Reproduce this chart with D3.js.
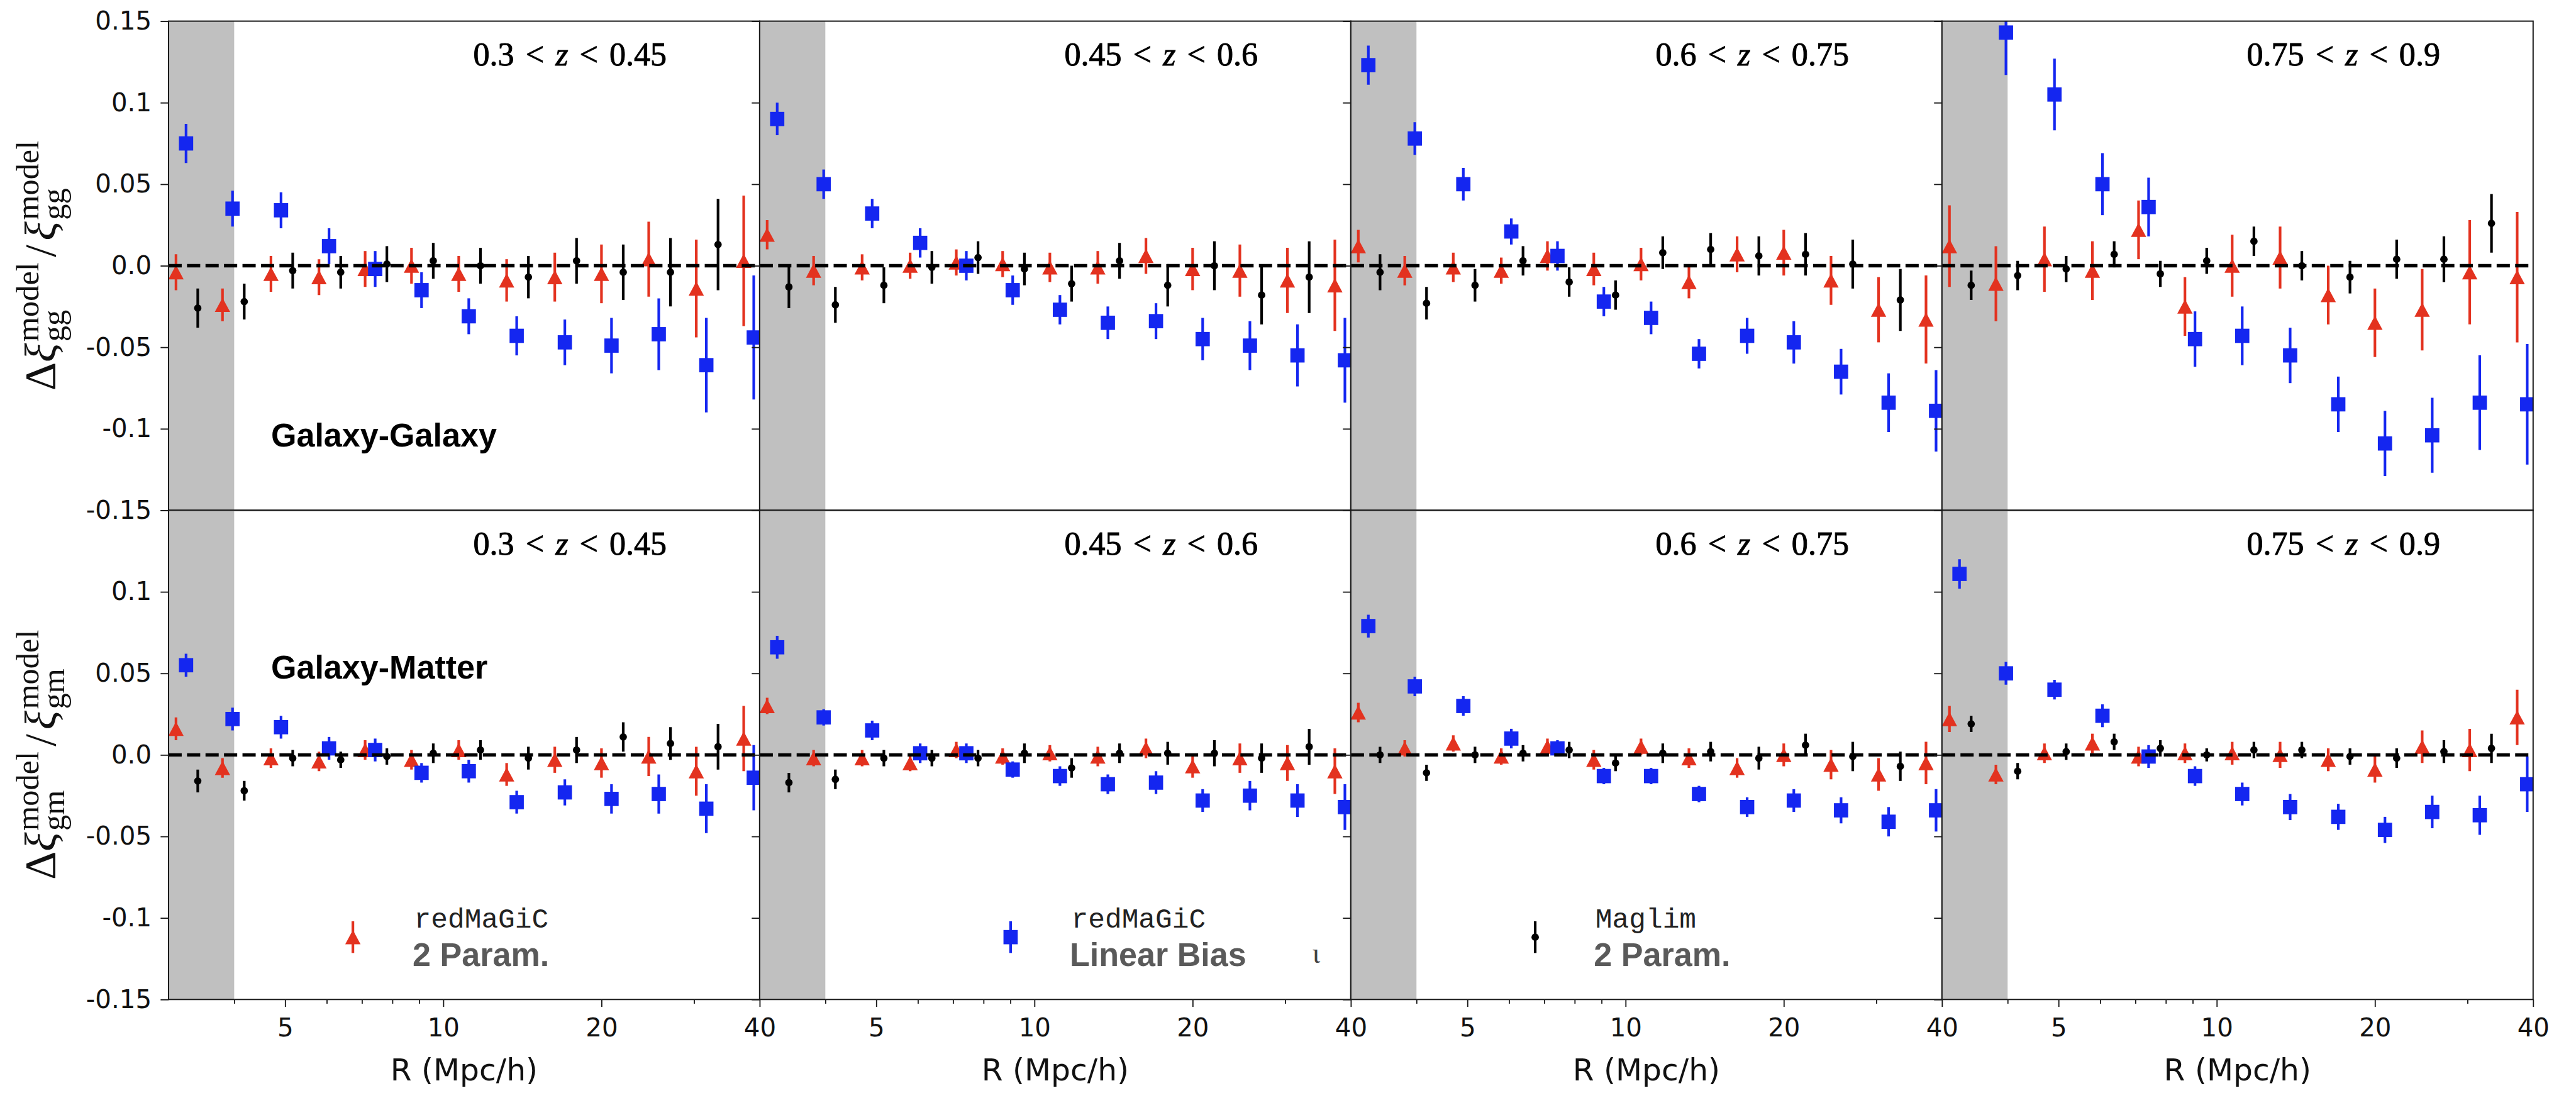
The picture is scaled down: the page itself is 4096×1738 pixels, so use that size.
<!DOCTYPE html>
<html>
<head>
<meta charset="utf-8">
<script src="https://cdn.jsdelivr.net/npm/d3@7"></script>
<style>
  html, body { margin: 0; padding: 0; background: #ffffff; }
  svg { display: block; }
</style>
</head>
<body>
<script>
// ---------------------------------------------------------------------------
// Data: fractional residuals of the clustering model, per redshift bin
// ---------------------------------------------------------------------------
const zLow  = ["0.3", "0.45", "0.6", "0.75"];
const zHigh = ["0.45", "0.6", "0.75", "0.9"];

// radial bin centres, R in Mpc/h
const rBins = [3.1, 3.8, 4.7, 5.8, 7.1, 8.7, 10.7, 13.2, 16.3, 20.0, 24.6, 30.3, 37.3];

const yTickValues = [-0.15, -0.1, -0.05, 0, 0.05, 0.1, 0.15];
const xTickValues = [4, 5, 6, 7, 8, 9, 10, 20, 30, 40];
const xTickLabeled = [5, 10, 20, 40];

// Galaxy-Galaxy, redMaGiC 2-parameter model
const ggRm2pVal = [
  [-0.004, -0.024, -0.005, -0.007, -0.002, 0.000, -0.005, -0.009, -0.007, -0.005, 0.004, -0.014, 0.003],
  [0.019, -0.003, -0.001, 0.000, 0.002, 0.001, -0.001, -0.001, 0.006, -0.002, -0.003, -0.009, -0.012],
  [0.012, -0.003, -0.001, -0.003, 0.006, -0.002, 0.001, -0.010, 0.007, 0.008, -0.009, -0.027, -0.033],
  [0.012, -0.011, 0.004, -0.003, 0.022, -0.025, 0.000, 0.005, -0.018, -0.035, -0.027, -0.004, -0.007]
];
const ggRm2pErr = [
  [0.011, 0.010, 0.011, 0.011, 0.011, 0.011, 0.011, 0.013, 0.015, 0.018, 0.023, 0.030, 0.040],
  [0.009, 0.009, 0.008, 0.008, 0.008, 0.008, 0.009, 0.010, 0.011, 0.013, 0.016, 0.020, 0.028],
  [0.010, 0.009, 0.009, 0.008, 0.009, 0.010, 0.010, 0.010, 0.011, 0.014, 0.015, 0.020, 0.027],
  [0.025, 0.023, 0.020, 0.018, 0.018, 0.018, 0.019, 0.019, 0.018, 0.021, 0.025, 0.032, 0.040]
];

// Galaxy-Galaxy, redMaGiC linear bias
const ggRmLinVal = [
  [0.075, 0.035, 0.034, 0.012, -0.002, -0.015, -0.031, -0.043, -0.047, -0.049, -0.042, -0.061, -0.044],
  [0.090, 0.050, 0.032, 0.014, 0.000, -0.015, -0.027, -0.035, -0.034, -0.045, -0.049, -0.055, -0.058],
  [0.123, 0.078, 0.050, 0.021, 0.006, -0.022, -0.032, -0.054, -0.043, -0.047, -0.065, -0.084, -0.089],
  [null, 0.143, 0.105, 0.050, 0.036, -0.045, -0.043, -0.055, -0.085, -0.109, -0.104, -0.084, -0.085]
];
const ggRmLinErr = [
  [0.012, 0.011, 0.011, 0.011, 0.011, 0.011, 0.011, 0.012, 0.014, 0.017, 0.022, 0.029, 0.038],
  [0.010, 0.009, 0.009, 0.009, 0.009, 0.009, 0.009, 0.010, 0.011, 0.013, 0.015, 0.019, 0.026],
  [0.012, 0.010, 0.010, 0.008, 0.009, 0.009, 0.010, 0.009, 0.011, 0.013, 0.014, 0.018, 0.025],
  [null, 0.026, 0.022, 0.019, 0.018, 0.017, 0.018, 0.017, 0.017, 0.020, 0.023, 0.029, 0.037]
];

// Galaxy-Galaxy, Maglim 2-parameter model
const ggMl2pVal = [
  [-0.026, -0.022, -0.003, -0.004, 0.001, 0.003, 0.000, -0.007, 0.003, -0.004, -0.004, 0.013],
  [-0.013, -0.024, -0.012, -0.001, 0.005, -0.002, -0.011, 0.003, -0.012, 0.000, -0.018, -0.007],
  [-0.004, -0.023, -0.012, 0.003, -0.010, -0.018, 0.008, 0.010, 0.006, 0.007, 0.001, -0.021],
  [-0.012, -0.006, -0.002, 0.007, -0.005, 0.003, 0.015, 0.000, -0.007, 0.004, 0.004, 0.026]
];
const ggMl2pErr = [
  [0.012, 0.011, 0.011, 0.010, 0.011, 0.011, 0.011, 0.013, 0.014, 0.017, 0.021, 0.028],
  [0.013, 0.011, 0.011, 0.010, 0.010, 0.010, 0.011, 0.011, 0.013, 0.015, 0.018, 0.022],
  [0.011, 0.010, 0.010, 0.009, 0.009, 0.009, 0.010, 0.010, 0.012, 0.013, 0.015, 0.019],
  [0.009, 0.009, 0.008, 0.008, 0.008, 0.008, 0.009, 0.009, 0.010, 0.012, 0.014, 0.018]
];

// Galaxy-Matter, redMaGiC 2-parameter model
const gmRm2pVal = [
  [0.016, -0.008, -0.002, -0.004, 0.003, -0.003, 0.003, -0.012, -0.003, -0.005, -0.001, -0.010, 0.010],
  [0.030, -0.002, -0.002, -0.005, 0.003, -0.001, 0.001, -0.001, 0.004, -0.007, -0.002, -0.005, -0.010],
  [0.026, 0.004, 0.007, -0.001, 0.005, -0.003, 0.005, -0.002, -0.008, 0.000, -0.006, -0.012, -0.005],
  [0.022, -0.012, 0.001, 0.007, -0.001, 0.001, 0.001, 0.000, -0.003, -0.009, 0.005, 0.003, 0.023]
];
const gmRm2pErr = [
  [0.007, 0.006, 0.006, 0.006, 0.006, 0.006, 0.006, 0.007, 0.008, 0.009, 0.012, 0.015, 0.020],
  [0.005, 0.005, 0.005, 0.005, 0.005, 0.005, 0.005, 0.006, 0.006, 0.007, 0.009, 0.011, 0.014],
  [0.006, 0.005, 0.005, 0.005, 0.005, 0.006, 0.005, 0.006, 0.006, 0.007, 0.009, 0.010, 0.013],
  [0.008, 0.006, 0.006, 0.006, 0.006, 0.006, 0.007, 0.008, 0.007, 0.008, 0.010, 0.013, 0.017]
];

// Galaxy-Matter, redMaGiC linear bias
const gmRmLinVal = [
  [0.055, 0.022, 0.017, 0.004, 0.003, -0.011, -0.010, -0.029, -0.023, -0.027, -0.024, -0.033, -0.014],
  [0.066, 0.023, 0.015, 0.001, 0.001, -0.009, -0.013, -0.018, -0.017, -0.028, -0.025, -0.028, -0.032],
  [0.079, 0.042, 0.030, 0.010, 0.004, -0.013, -0.013, -0.024, -0.032, -0.028, -0.034, -0.041, -0.034],
  [0.111, 0.050, 0.040, 0.024, -0.001, -0.013, -0.024, -0.032, -0.038, -0.046, -0.035, -0.037, -0.018]
];
const gmRmLinErr = [
  [0.007, 0.007, 0.007, 0.007, 0.007, 0.006, 0.007, 0.007, 0.008, 0.009, 0.012, 0.015, 0.020],
  [0.007, 0.005, 0.006, 0.006, 0.006, 0.005, 0.006, 0.006, 0.007, 0.007, 0.009, 0.010, 0.014],
  [0.007, 0.006, 0.006, 0.006, 0.005, 0.005, 0.005, 0.005, 0.006, 0.007, 0.008, 0.009, 0.013],
  [0.009, 0.007, 0.006, 0.007, 0.007, 0.006, 0.007, 0.008, 0.008, 0.008, 0.010, 0.012, 0.017]
];

// Galaxy-Matter, Maglim 2-parameter model
const gmMl2pVal = [
  [-0.016, -0.022, -0.002, -0.003, -0.001, 0.001, 0.003, -0.002, 0.003, 0.011, 0.007, 0.005],
  [-0.017, -0.015, -0.002, -0.002, -0.002, 0.001, -0.008, 0.001, 0.001, 0.001, -0.002, 0.005],
  [0.000, -0.011, 0.000, 0.001, 0.003, -0.005, 0.001, 0.002, -0.002, 0.006, -0.001, -0.007],
  [0.019, -0.010, 0.002, 0.008, 0.004, 0.000, 0.003, 0.003, -0.001, -0.002, 0.002, 0.004]
];
const gmMl2pErr = [
  [0.007, 0.006, 0.005, 0.005, 0.005, 0.006, 0.006, 0.007, 0.008, 0.009, 0.010, 0.014],
  [0.006, 0.006, 0.005, 0.005, 0.005, 0.006, 0.006, 0.006, 0.007, 0.008, 0.009, 0.011],
  [0.005, 0.005, 0.005, 0.005, 0.005, 0.005, 0.006, 0.006, 0.007, 0.007, 0.009, 0.009],
  [0.005, 0.005, 0.005, 0.005, 0.005, 0.004, 0.005, 0.005, 0.005, 0.006, 0.007, 0.009]
];

const legendSample = ["redMaGiC", "redMaGiC", "Maglim"];
const legendModel  = ["2 Param.", "Linear Bias", "2 Param."];

// ---------------------------------------------------------------------------
// Layout (drawing units scaled by S)
// ---------------------------------------------------------------------------
const S = 0.84;
const W = 4096, H = 1738;
const panelW = 1119 * S;
const rowH = 926 * S;
const left0 = 319 * S;
const top0 = 40 * S;

const SANS = "'DejaVu Sans', sans-serif";
const SERIF = "'Liberation Serif', 'DejaVu Serif', serif";
const MONO = "'Liberation Mono', 'DejaVu Sans Mono', monospace";
const BOLD = "'Liberation Sans', Arial, sans-serif";

const RED = "#e3321f", BLUE = "#1426f0", BLACK = "#000000";

const series = [
  { shape: "tri", color: RED,   shift: 1.000, val: [ggRm2pVal, gmRm2pVal],   err: [ggRm2pErr, gmRm2pErr] },
  { shape: "sq",  color: BLUE,  shift: 1.045, val: [ggRmLinVal, gmRmLinVal], err: [ggRmLinErr, gmRmLinErr] },
  { shape: "dot", color: BLACK, shift: 1.100, val: [ggMl2pVal, gmMl2pVal],   err: [ggMl2pErr, gmMl2pErr] }
];

const svg = d3.select("body").append("svg")
  .attr("width", W).attr("height", H)
  .attr("viewBox", `0 0 ${W} ${H}`);
svg.append("rect").attr("width", W).attr("height", H).attr("fill", "#ffffff");
const defs = svg.append("defs");

function drawMarker(g, shape, color, cx, cy) {
  if (shape === "tri") {
    const w = 29 * S, h = 27 * S;
    g.append("path")
      .attr("d", `M${cx},${cy - h / 2}L${cx + w / 2},${cy + h / 2}L${cx - w / 2},${cy + h / 2}Z`)
      .attr("fill", color);
  } else if (shape === "sq") {
    const s = 27 * S;
    g.append("rect").attr("x", cx - s / 2).attr("y", cy - s / 2)
      .attr("width", s).attr("height", s).attr("fill", color);
  } else {
    g.append("circle").attr("cx", cx).attr("cy", cy).attr("r", 7 * S).attr("fill", color);
  }
}

for (let row = 0; row < 2; row++) {
  for (let p = 0; p < 4; p++) {
    const x0 = left0 + p * panelW;
    const y0 = top0 + row * rowH;
    const x = d3.scaleLog().domain([3, 40]).range([x0, x0 + panelW]);
    const y = d3.scaleLinear().domain([-0.15, 0.15]).range([y0 + rowH, y0]);

    const clipId = `clip-${row}-${p}`;
    defs.append("clipPath").attr("id", clipId)
      .append("rect").attr("x", x0).attr("y", y0).attr("width", panelW).attr("height", rowH);

    const panel = svg.append("g");
    const plot = panel.append("g").attr("clip-path", `url(#${clipId})`);

    // excluded small scales
    plot.append("rect")
      .attr("x", x(3)).attr("y", y0)
      .attr("width", x(4) - x(3)).attr("height", rowH)
      .attr("fill", "#c0c0c0");

    // error bars and markers
    series.forEach(s => {
      const vals = s.val[row][p], errs = s.err[row][p];
      vals.forEach((v, i) => {
        if (v === null) return;
        const cx = x(rBins[i] * s.shift);
        plot.append("line")
          .attr("x1", cx).attr("x2", cx)
          .attr("y1", y(v - errs[i])).attr("y2", y(v + errs[i]))
          .attr("stroke", s.color).attr("stroke-width", 5 * S);
        drawMarker(plot, s.shape, s.color, cx, y(v));
      });
    });

    // zero line
    plot.append("line")
      .attr("x1", x0).attr("x2", x0 + panelW)
      .attr("y1", y(0)).attr("y2", y(0))
      .attr("stroke", "#000").attr("stroke-width", 6.5 * S)
      .attr("stroke-dasharray", `${25 * S},${10 * S}`);

    // y axis
    const yAxis = d3.axisLeft(y).tickValues(yTickValues)
      .tickSize(15 * S).tickSizeOuter(0).tickPadding(17 * S)
      .tickFormat(d => {
        if (p > 0) return "";
        if (row === 1 && d === 0.15) return "";
        return d === 0 ? "0.0" : String(+d.toFixed(2));
      });
    const gy = panel.append("g").attr("transform", `translate(${x0},0)`).call(yAxis);
    gy.select(".domain").remove();
    gy.selectAll(".tick line").attr("stroke", "#1a1a1a").attr("stroke-width", 2.2 * S);
    gy.selectAll(".tick text")
      .attr("font-family", SANS).attr("font-size", 48 * S).attr("fill", "#111");

    // x axis on the lower row
    if (row === 1) {
      const xAxis = d3.axisBottom(x).tickValues(xTickValues)
        .tickSize(14 * S).tickSizeOuter(0).tickPadding(22 * S)
        .tickFormat(d => xTickLabeled.includes(d) ? String(d) : "");
      const gx = panel.append("g").attr("transform", `translate(0,${y0 + rowH})`).call(xAxis);
      gx.select(".domain").remove();
      gx.selectAll(".tick line")
        .attr("stroke", "#1a1a1a").attr("stroke-width", 2.2 * S)
        .attr("y2", d => xTickLabeled.includes(d) ? 14 * S : 8 * S);
      gx.selectAll(".tick text")
        .attr("font-family", SANS).attr("font-size", 48 * S).attr("fill", "#111");

      panel.append("text")
        .attr("x", x0 + panelW / 2).attr("y", 2045 * S)
        .attr("text-anchor", "middle")
        .attr("font-family", SANS).attr("font-size", 58 * S).attr("fill", "#111")
        .text("R (Mpc/h)");
    }

    // frame
    panel.append("rect")
      .attr("x", x0).attr("y", y0).attr("width", panelW).attr("height", rowH)
      .attr("fill", "none").attr("stroke", "#1a1a1a").attr("stroke-width", 2.4 * S);

    // redshift bin title
    const t = panel.append("text")
      .attr("x", x0 + panelW - 176 * S).attr("y", y0 + 84 * S)
      .attr("text-anchor", "end")
      .attr("font-family", SERIF).attr("font-size", 62 * S).attr("fill", "#000")
      .attr("stroke", "#000").attr("stroke-width", 1.1 * S)
      .attr("word-spacing", 6 * S);
    t.append("tspan").text(`${zLow[p]} < `);
    t.append("tspan").attr("font-style", "italic").text("z");
    t.append("tspan").text(` < ${zHigh[p]}`);
  }
}

// panel-type labels
svg.append("text").attr("x", 513 * S).attr("y", 845 * S)
  .attr("font-family", BOLD).attr("font-weight", "bold").attr("font-size", 62 * S)
  .attr("fill", "#000").text("Galaxy-Galaxy");
svg.append("text").attr("x", 513 * S).attr("y", 1285 * S)
  .attr("font-family", BOLD).attr("font-weight", "bold").attr("font-size", 62 * S)
  .attr("fill", "#000").text("Galaxy-Matter");

// y-axis labels: Δξ^model_xx / ξ^model_xx
function yLabel(cx, cy, sub) {
  const F = 84 * S, f = 60 * S;
  const g = svg.append("g").attr("transform", `translate(${cx},${cy}) rotate(-90)`);
  const inner = g.append("g");
  let pos = 0;
  const piece = (txt, size, italic, dy) => {
    const node = inner.append("text")
      .attr("x", pos).attr("y", dy)
      .attr("font-family", SERIF).attr("font-size", size)
      .attr("font-style", italic ? "italic" : "normal")
      .attr("fill", "#111").text(txt).node();
    return node.getComputedTextLength();
  };
  pos += piece("Δ", F, false, 0);
  pos += piece("ξ", F, true, 0) + 3 * S;
  let a = piece("model", f, false, -0.38 * F);
  let b = piece(sub, f, false, 0.19 * F);
  pos += Math.max(a, b) + 10 * S;
  pos += piece("/", F, false, 0) + 8 * S;
  pos += piece("ξ", F, true, 0) + 3 * S;
  a = piece("model", f, false, -0.38 * F);
  b = piece(sub, f, false, 0.19 * F);
  pos += Math.max(a, b);
  inner.attr("transform", `translate(${-pos / 2},0)`);
}
yLabel(105 * S, top0 + rowH / 2, "gg");
yLabel(105 * S, top0 + rowH * 1.5, "gm");

// legend entries along the lower row
const legendMarkerX = [668, 1913, 2906];
const legendTextX = [784, 2028, 3020];
series.forEach((s, i) => {
  const cx = legendMarkerX[i] * S, cy = 1774 * S;
  svg.append("line").attr("x1", cx).attr("x2", cx)
    .attr("y1", cy - 30 * S).attr("y2", cy + 30 * S)
    .attr("stroke", s.color).attr("stroke-width", 5 * S);
  drawMarker(svg, s.shape, s.color, cx, cy);
  svg.append("text").attr("x", legendTextX[i] * S).attr("y", 1756 * S)
    .attr("font-family", MONO).attr("font-size", 53 * S).attr("fill", "#222")
    .text(legendSample[i]);
  svg.append("text").attr("x", legendTextX[i] * S - 3 * S).attr("y", 1829 * S)
    .attr("font-family", BOLD).attr("font-weight", "bold").attr("font-size", 62 * S)
    .attr("fill", "#5a5a5a").text(legendModel[i]);
});
svg.append("text").attr("x", 2484 * S).attr("y", 1823 * S)
  .attr("font-family", SERIF).attr("font-size", 56 * S).attr("fill", "#444")
  .text("ι");
</script>
</body>
</html>
